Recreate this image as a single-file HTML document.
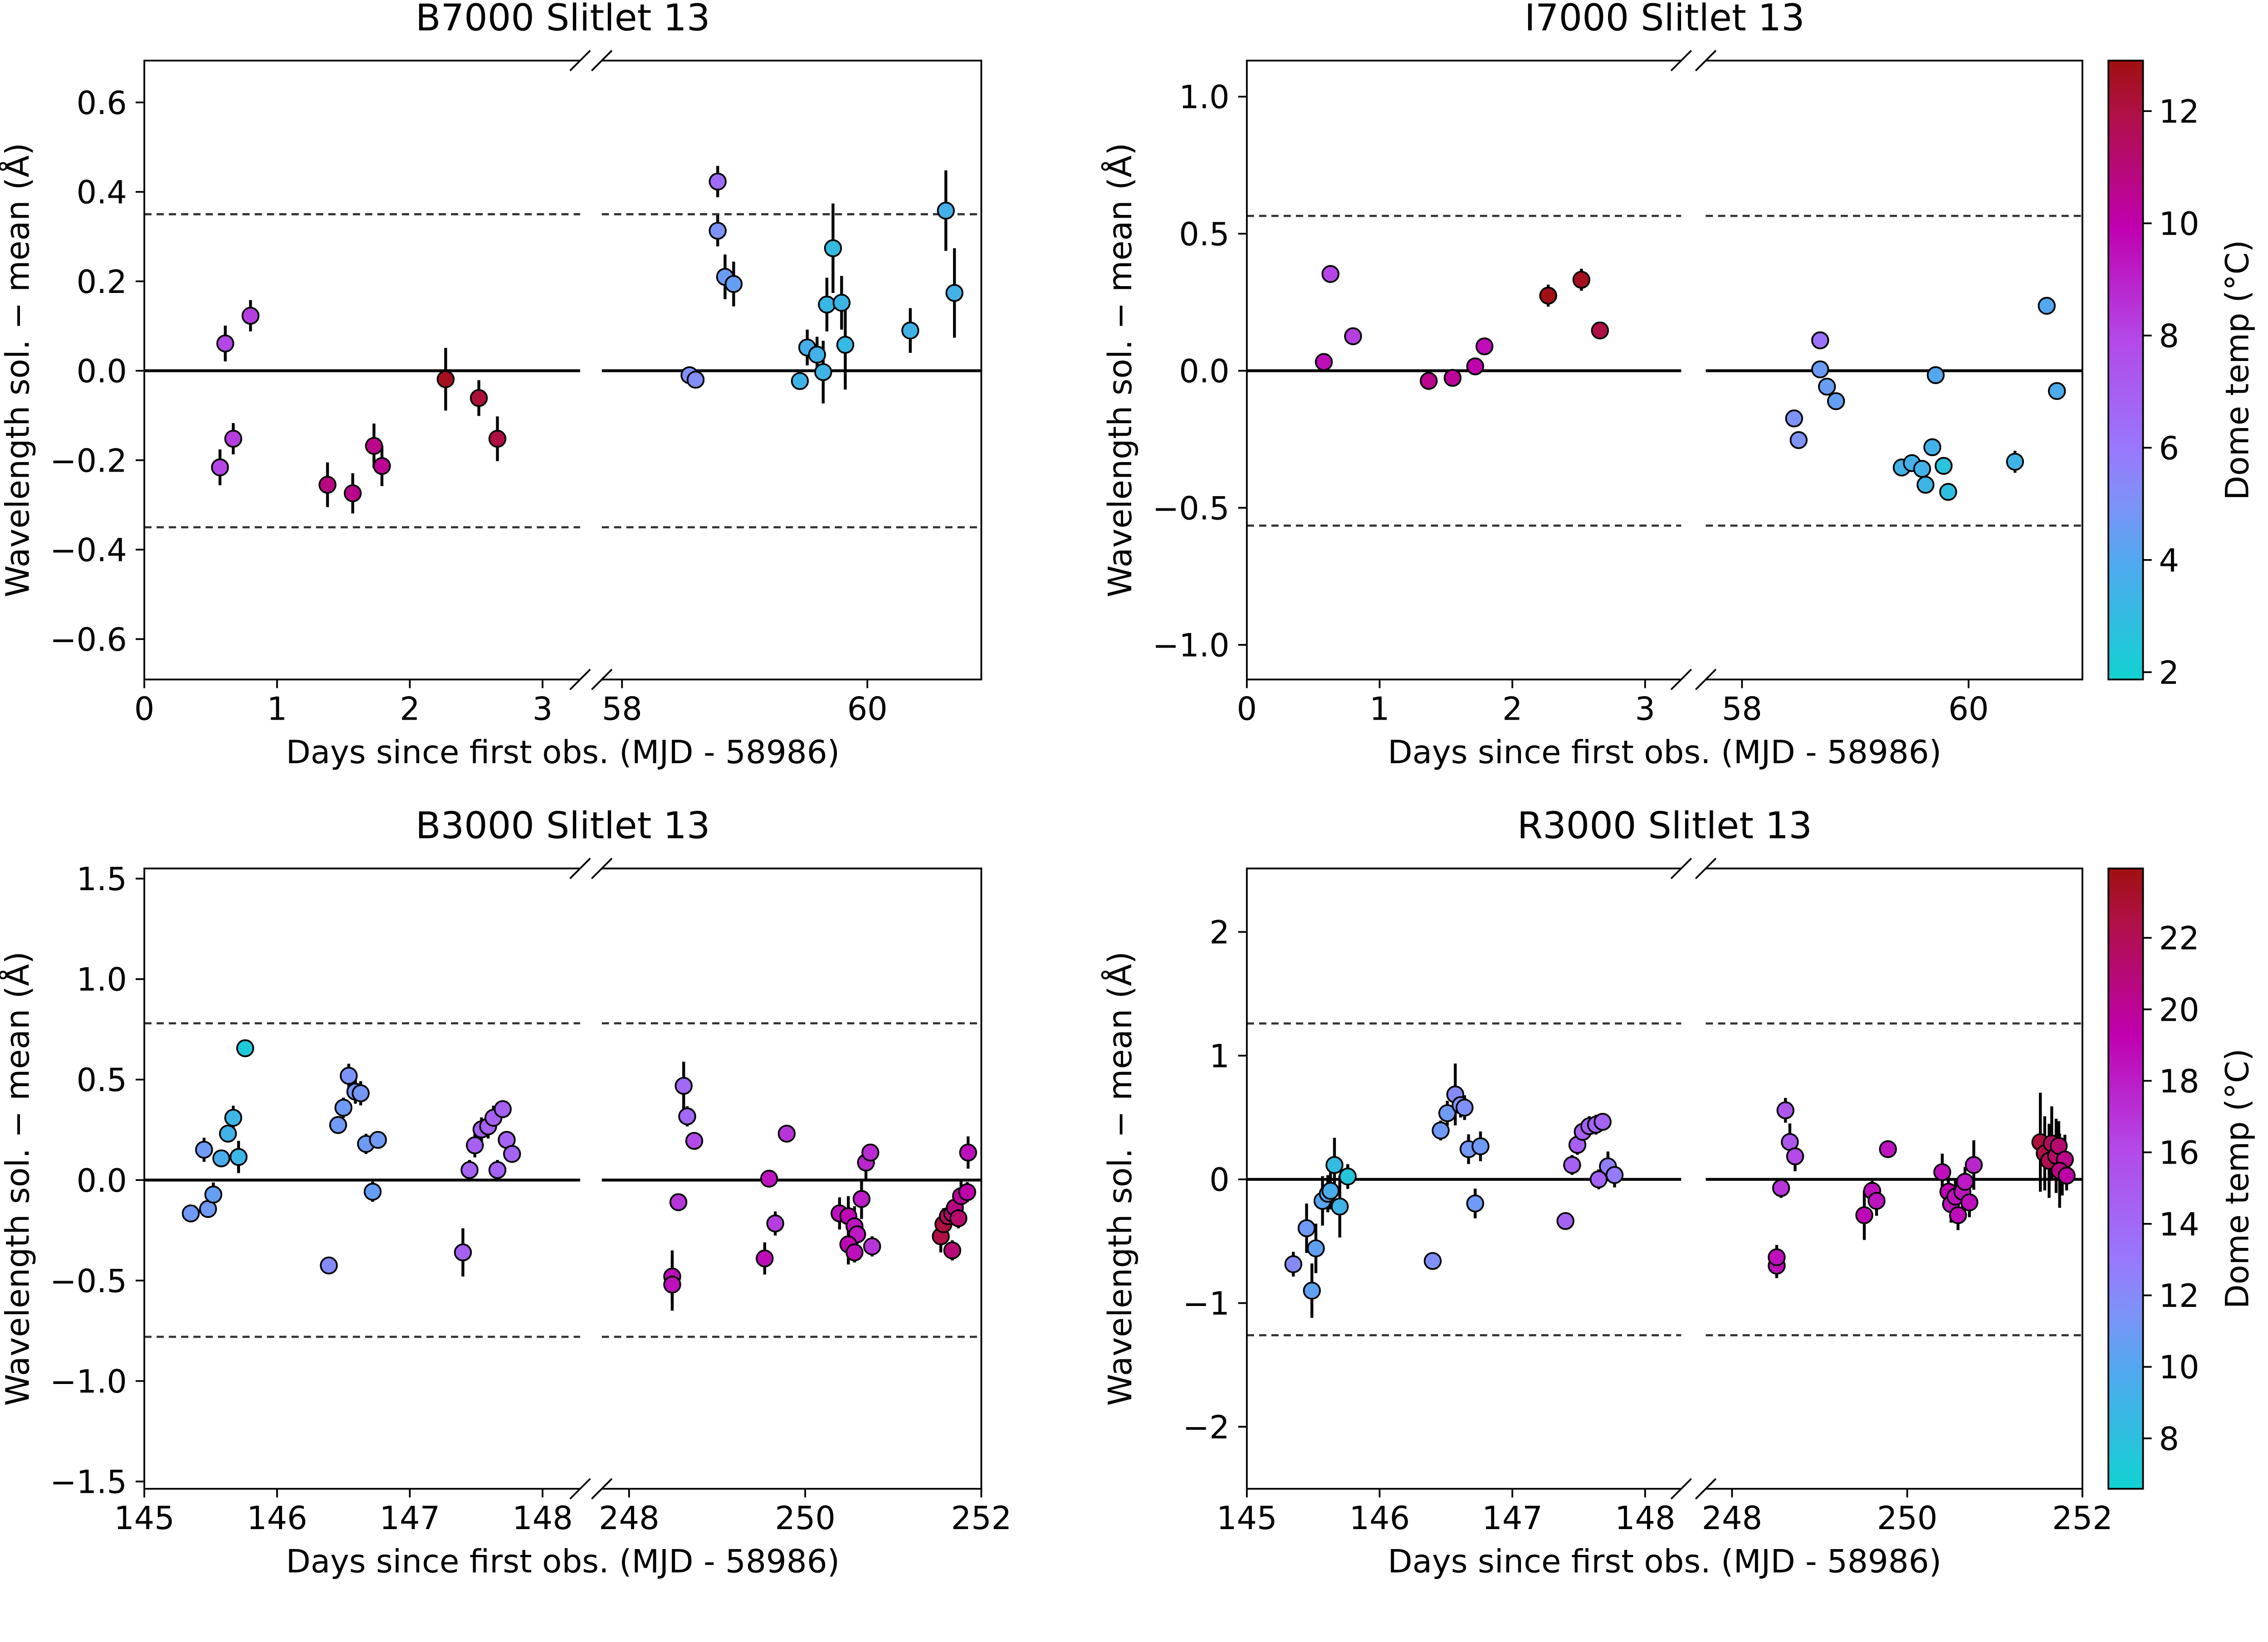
<!DOCTYPE html>
<html><head><meta charset="utf-8">
<style>
html,body{margin:0;padding:0;background:#fff;width:5188px;height:3621px;overflow:hidden;}
svg{position:absolute;left:0;top:0;display:block;font-family:"DejaVu Sans","Liberation Sans",sans-serif;}
</style></head>
<body>
<svg id="fig" xmlns="http://www.w3.org/2000/svg" width="5188" height="3621" viewBox="0 0 1630.7 1138.2" preserveAspectRatio="none">
<defs>
<linearGradient id="cbgrad" x1="0" y1="1" x2="0" y2="0">
<stop offset="0" stop-color="#12d2d2"/><stop offset="0.19" stop-color="#50a8ee"/><stop offset="0.28" stop-color="#7c94f8"/><stop offset="0.37" stop-color="#9878fc"/><stop offset="0.55" stop-color="#b448e8"/><stop offset="0.73" stop-color="#c000b0"/><stop offset="0.91" stop-color="#b01048"/><stop offset="1" stop-color="#a01010"/>
</linearGradient>
</defs>
</svg>
<script>
// ---- data: B7000 ----
const b7000X=[0.57,0.61,0.67,0.80,1.38,1.57,1.73,1.79,2.27,2.52,2.66,58.78,58.78,58.84,58.91,58.55,58.60,59.45,59.51,59.59,59.64,59.67,59.72,59.79,59.82,60.35,60.64,60.71];
const b7000Y=[-0.216,0.061,-0.152,0.123,-0.255,-0.274,-0.168,-0.213,-0.019,-0.061,-0.152,0.423,0.313,0.21,0.194,-0.01,-0.02,-0.023,0.052,0.036,-0.003,0.148,0.274,0.152,0.058,0.09,0.358,0.174];
const b7000Err=[0.04,0.04,0.035,0.035,0.05,0.045,0.05,0.045,0.07,0.04,0.05,0.035,0.035,0.05,0.05,0.015,0.015,0.015,0.04,0.04,0.07,0.06,0.1,0.06,0.1,0.05,0.09,0.1];
const b7000Temp=[8,8,8.2,8.2,10.8,10.6,10.6,10.5,12.6,12.2,12,6.5,5,4.6,4.4,5,5.2,3.4,3.6,3.5,3.4,3.2,3,3.3,3.1,3.4,3.6,3.5];
// ---- data: I7000 ----
const i7000X=[0.58,0.63,0.80,1.37,1.55,1.72,1.79,2.27,2.52,2.66,58.46,58.50,58.69,58.69,58.75,58.83,59.41,59.50,59.59,59.62,59.68,59.71,59.78,59.82,60.41,60.69,60.78];
const i7000Y=[0.032,0.353,0.126,-0.037,-0.026,0.016,0.089,0.274,0.332,0.147,-0.174,-0.253,0.111,0.005,-0.058,-0.111,-0.353,-0.337,-0.358,-0.416,-0.279,-0.016,-0.347,-0.442,-0.332,0.237,-0.074];
const i7000Err=[0.02,0.02,0.02,0.02,0.02,0.02,0.02,0.04,0.04,0.02,0.02,0.02,0.02,0.02,0.02,0.02,0.02,0.02,0.02,0.02,0.02,0.02,0.02,0.02,0.04,0.02,0.02];
const i7000Temp=[9.6,8,8.2,10.6,10.4,10,9.6,12.8,12.6,12,5,5,6.2,4.6,4.5,4.4,3.4,3.5,3.5,3.3,3.5,4,2.6,2.8,3.4,4,3.8];
// ---- data: B3000 ----
const b3000X=[145.35,145.45,145.48,145.52,145.58,145.63,145.67,145.71,145.76,146.39,146.46,146.50,146.54,146.59,146.63,146.67,146.72,146.76,147.40,147.45,147.49,147.54,147.59,147.63,147.66,147.70,147.73,147.77,248.49,248.49,248.56,248.62,248.66,248.74,249.54,249.59,249.66,249.79,250.39,250.49,250.56,250.59,250.49,250.56,250.64,250.69,250.74,250.76,251.54,251.57,251.62,251.67,251.70,251.67,251.74,251.77,251.84,251.85];
const b3000Y=[-0.166,0.151,-0.144,-0.072,0.108,0.231,0.31,0.115,0.656,-0.425,0.274,0.36,0.519,0.44,0.432,0.18,-0.058,0.2,-0.36,0.05,0.173,0.252,0.267,0.31,0.05,0.353,0.2,0.13,-0.48,-0.52,-0.11,0.469,0.317,0.195,-0.39,0.007,-0.216,0.231,-0.166,-0.18,-0.23,-0.27,-0.32,-0.36,-0.094,0.087,0.137,-0.33,-0.28,-0.22,-0.18,-0.166,-0.137,-0.35,-0.19,-0.08,-0.06,0.137];
const b3000Err=[0.03,0.06,0.04,0.06,0.04,0.04,0.06,0.08,0.03,0.03,0.04,0.05,0.06,0.06,0.06,0.05,0.05,0.04,0.12,0.05,0.06,0.06,0.06,0.06,0.05,0.04,0.04,0.04,0.13,0.13,0.04,0.12,0.05,0.03,0.08,0.03,0.06,0.03,0.08,0.1,0.1,0.05,0.1,0.05,0.1,0.08,0.04,0.05,0.08,0.08,0.05,0.05,0.05,0.05,0.05,0.08,0.05,0.08];
const b3000Temp=[11,11,11,10.5,9.5,9,8.8,8.8,7.2,12,11,11,11.5,11.2,11.2,11,10.6,11,14.5,14.4,14.6,14.6,14.6,14.6,14.4,14.5,14.4,14.4,18.6,18.6,17,14,14,16,18.8,18.4,16.6,17,18.6,19,18.4,18.2,19,18.6,18,17.6,17.4,17,22.4,22.6,22,21,20.6,21,21.2,19.8,19.4,18.6];
// ---- data: R3000 ----
const r3000X=[145.35,145.45,145.49,145.52,145.57,145.61,145.63,145.66,145.70,145.76,146.40,146.46,146.51,146.57,146.61,146.64,146.67,146.72,146.76,147.40,147.45,147.49,147.53,147.58,147.63,147.65,147.68,147.72,147.77,248.51,248.51,248.56,248.61,248.66,248.72,249.51,249.60,249.65,249.78,250.40,250.47,250.50,250.55,250.58,250.63,250.66,250.71,250.76,251.52,251.57,251.62,251.65,251.70,251.73,251.77,251.80,251.74,251.82];
const r3000Y=[-0.686,-0.395,-0.9,-0.558,-0.174,-0.116,-0.093,0.116,-0.22,0.023,-0.66,0.395,0.535,0.686,0.6,0.58,0.244,-0.195,0.267,-0.337,0.116,0.279,0.384,0.43,0.442,0.0,0.465,0.105,0.035,-0.698,-0.63,-0.07,0.558,0.302,0.186,-0.29,-0.093,-0.174,0.244,0.058,-0.1,-0.2,-0.14,-0.29,-0.1,-0.02,-0.186,0.116,0.3,0.21,0.15,0.29,0.19,0.27,0.07,0.16,0.07,0.03];
const r3000Err=[0.1,0.2,0.22,0.2,0.2,0.15,0.15,0.22,0.25,0.1,0.07,0.08,0.1,0.25,0.1,0.1,0.12,0.12,0.12,0.05,0.08,0.08,0.08,0.08,0.08,0.08,0.06,0.12,0.1,0.1,0.1,0.08,0.1,0.15,0.12,0.2,0.08,0.12,0.06,0.15,0.15,0.15,0.15,0.12,0.12,0.12,0.12,0.2,0.4,0.3,0.3,0.3,0.3,0.2,0.2,0.2,0.3,0.12];
const r3000Temp=[12,11,10.4,10.4,10.2,10,9.6,8.4,9,7.6,11.6,11,11,12,11.6,11.6,11.2,11,11,14.5,14.6,14.6,14.6,14.6,14.4,14.4,14.4,12.6,12.8,18.6,18.6,17,15.2,15.2,16,19,18.6,18.4,18.4,18.6,19,18.4,18.6,18.8,18.4,18.2,18.6,17.6,22.6,22.4,22,21.6,21.4,21.2,21,20.4,20.6,19.6];
// ---- ticks ----
const b7000YTicks=[0.6,0.4,0.2,0,-0.2,-0.4,-0.6];
const b7000YLabels=["0.6","0.4","0.2","0.0","\u22120.2","\u22120.4","\u22120.6"];
const i7000YTicks=[1,0.5,0,-0.5,-1];
const i7000YLabels=["1.0","0.5","0.0","\u22120.5","\u22121.0"];
const b3000YTicks=[1.5,1,0.5,0,-0.5,-1,-1.5];
const b3000YLabels=["1.5","1.0","0.5","0.0","\u22120.5","\u22121.0","\u22121.5"];
const r3000YTicks=[2,1,0,-1,-2];
const r3000YLabels=["2","1","0","\u22121","\u22122"];
const topLeftXTicks=[0,1,2,3];
const topRightXTicks=[58,60];
const botLeftXTicks=[145,146,147,148];
const botRightXTicks=[248,250,252];
const cbTopTicks=[2,4,6,8,10,12];
const cbBotTicks=[8,10,12,14,16,18,20,22];

const NS="http://www.w3.org/2000/svg";
const svg=document.getElementById('fig');
const TICKFS=22;
function mk(tag,attrs,parent,text){const e=document.createElementNS(NS,tag);for(const k in attrs)e.setAttribute(k,attrs[k]);if(text!==undefined)e.textContent=text;(parent||svg).appendChild(e);return e;}
const stops=[[0,[0x12,0xd2,0xd2]],[0.19,[0x50,0xa8,0xee]],[0.28,[0x7c,0x94,0xf8]],[0.37,[0x98,0x78,0xfc]],[0.55,[0xb4,0x48,0xe8]],[0.73,[0xc0,0x00,0xb0]],[0.91,[0xb0,0x10,0x48]],[1,[0xa0,0x10,0x10]]];
function cmap(t){t=Math.max(0,Math.min(1,t));for(let i=1;i<stops.length;i++){if(t<=stops[i][0]){const a=stops[i-1],b=stops[i];const f=(t-a[0])/(b[0]-a[0]);const c=a[1].map((v,j)=>Math.round(v+(b[1][j]-v)*f));return `rgb(${c[0]},${c[1]},${c[2]})`;}}return 'rgb(160,16,16)';}

function panel(cfg){
  const g=mk('g',{});
  
  
  const y=v=>cfg.yc-(v)*cfg.ys;
  const segs=cfg.segs;
  function sx(seg,v){return seg.p0+(v-seg.x0)/(seg.x1-seg.x0)*(seg.p1-seg.p0);}
  const clipId='clip'+cfg.name;
  segs.forEach((s,i)=>{
    const cp=mk('clipPath',{id:clipId+i},g);mk('rect',{x:s.p0,y:cfg.top,width:s.p1-s.p0,height:cfg.bot-cfg.top},cp);
  });
  segs.forEach((s,i)=>{
    const l=mk('g',{'clip-path':`url(#${clipId}${i})`},g);
    let z=mk('line',{x1:s.p0,x2:s.p1,y1:y(0),y2:y(0),stroke:'#000','stroke-width':2},l);
    
    
    [cfg.dash,-cfg.dash].forEach(d=>{let dl=mk('line',{x1:s.p0,x2:s.p1,y1:y(d),y2:y(d),stroke:'#333','stroke-width':1.5,'stroke-dasharray':'5,3.5'},l);
      
      });
    for(let k=0;k<cfg.X.length;k++){
      const xv=cfg.X[k];if(xv<s.x0||xv>s.x1)continue;
      const px=sx(s,xv),py=y(cfg.Y[k]),e=cfg.E[k]*cfg.ys;
      let eb=mk('line',{x1:px,x2:px,y1:py-e,y2:py+e,stroke:'#000','stroke-width':2},l);
      
      
    }
    for(let k=0;k<cfg.X.length;k++){
      const xv=cfg.X[k];if(xv<s.x0||xv>s.x1)continue;
      const c=mk('circle',{cx:sx(s,xv),cy:y(cfg.Y[k]),r:5.6,fill:cmap((cfg.T[k]-cfg.cmin)/(cfg.cmax-cfg.cmin)),stroke:'#000','stroke-width':1.2},l);
      
      
    }
  });
  const L=segs[0],R=segs[1];
  const sp='stroke:#000;stroke-width:1.2;fill:none';
  mk('polyline',{points:`${L.p1},${cfg.top} ${L.p0},${cfg.top} ${L.p0},${cfg.bot} ${L.p1},${cfg.bot}`,style:sp},g);
  mk('polyline',{points:`${R.p0},${cfg.top} ${R.p1},${cfg.top} ${R.p1},${cfg.bot} ${R.p0},${cfg.bot}`,style:sp},g);
  [cfg.top,cfg.bot].forEach(yy=>{[L.p1,R.p0].forEach(xx=>{mk('line',{x1:xx-7,y1:yy+7,x2:xx+7,y2:yy-7,stroke:'#000','stroke-width':1.2},g);});});
  cfg.yt.forEach((v,i)=>{mk('line',{x1:L.p0-6,x2:L.p0,y1:y(v),y2:y(v),stroke:'#000','stroke-width':1.2},g);
    const t=mk('text',{x:L.p0-12,y:y(v)+8,'text-anchor':'end','font-size':TICKFS},g,cfg.yl[i]);
    
    });
  [[L,cfg.xtL],[R,cfg.xtR]].forEach(([s,ts])=>{ts.forEach(v=>{const px=sx(s,v);mk('line',{x1:px,x2:px,y1:cfg.bot,y2:cfg.bot+6,stroke:'#000','stroke-width':1.2},g);
    const t=mk('text',{x:px,y:cfg.bot+28,'text-anchor':'middle','font-size':TICKFS},g,String(v));
    
    });});
  const tt=mk('text',{x:(L.p0+R.p1)/2,y:cfg.top-21,'text-anchor':'middle','font-size':25.5},g,cfg.title);
  
  
  const xl=mk('text',{x:(L.p0+R.p1)/2,y:cfg.bot+58,'text-anchor':'middle','font-size':22.2},g,'Days since first obs. (MJD - 58986)');
  
  
  const yx=L.p0-80,yy=(cfg.top+cfg.bot)/2;
  const yl=mk('text',{x:yx,y:yy,'text-anchor':'middle','font-size':22.4,transform:`rotate(-90 ${yx} ${yy})`},g,'Wavelength sol. \u2212 mean (\u00c5)');
  
  
}
function colorbar(x,top,bot,cmin,cmax,ticks){
  const g=mk('g',{});
  
  
  mk('rect',{x:x,y:top,width:24,height:bot-top,fill:'url(#cbgrad)',stroke:'#000','stroke-width':1.2},g);
  ticks.forEach(v=>{const py=bot-(v-cmin)/(cmax-cmin)*(bot-top);
    mk('line',{x1:x+24,x2:x+30,y1:py,y2:py,stroke:'#000','stroke-width':1.2},g);
    const t=mk('text',{x:x+35,y:py+8,'font-size':TICKFS},g,String(v));
    
    });
  const lx=x+97,ly=(top+bot)/2;
  const t=mk('text',{x:lx,y:ly,'text-anchor':'middle','font-size':22,transform:`rotate(-90 ${lx} ${ly})`},g,'Dome temp (\u00b0C)');
  
  
}
const cTop=[1.87,12.9],cBot=[6.59,23.94];
panel({name:'b7000-panel',title:'B7000 Slitlet 13',top:42,bot:471,yc:257,ys:310,dash:0.35,X:b7000X,Y:b7000Y,E:b7000Err,T:b7000Temp,cmin:cTop[0],cmax:cTop[1],
  segs:[{p0:100,p1:402,x0:0,x1:3.283},{p0:417,p1:680,x0:57.835,x1:60.929}],yt:b7000YTicks,yl:b7000YLabels,xtL:topLeftXTicks,xtR:topRightXTicks});
panel({name:'i7000-panel',title:'I7000 Slitlet 13',top:42,bot:471,yc:257,ys:190,dash:0.565,X:i7000X,Y:i7000Y,E:i7000Err,T:i7000Temp,cmin:cTop[0],cmax:cTop[1],
  segs:[{p0:864,p1:1165,x0:0,x1:3.272},{p0:1182,p1:1443,x0:57.68,x1:61.005}],yt:i7000YTicks,yl:i7000YLabels,xtL:topLeftXTicks,xtR:topRightXTicks});
panel({name:'b3000-panel',title:'B3000 Slitlet 13',top:602,bot:1032,yc:818,ys:139.3,dash:0.78,X:b3000X,Y:b3000Y,E:b3000Err,T:b3000Temp,cmin:cBot[0],cmax:cBot[1],
  segs:[{p0:100,p1:402,x0:145,x1:148.283},{p0:417,p1:680,x0:247.69,x1:252}],yt:b3000YTicks,yl:b3000YLabels,xtL:botLeftXTicks,xtR:botRightXTicks});
panel({name:'r3000-panel',title:'R3000 Slitlet 13',top:602,bot:1032,yc:817.5,ys:85.75,dash:1.26,X:r3000X,Y:r3000Y,E:r3000Err,T:r3000Temp,cmin:cBot[0],cmax:cBot[1],
  segs:[{p0:864,p1:1165,x0:145,x1:148.272},{p0:1182,p1:1443,x0:247.7,x1:252}],yt:r3000YTicks,yl:r3000YLabels,xtL:botLeftXTicks,xtR:botRightXTicks});
colorbar(1461,42,471,cTop[0],cTop[1],cbTopTicks);
colorbar(1461,602,1032,cBot[0],cBot[1],cbBotTicks);
</script>
</body></html>
